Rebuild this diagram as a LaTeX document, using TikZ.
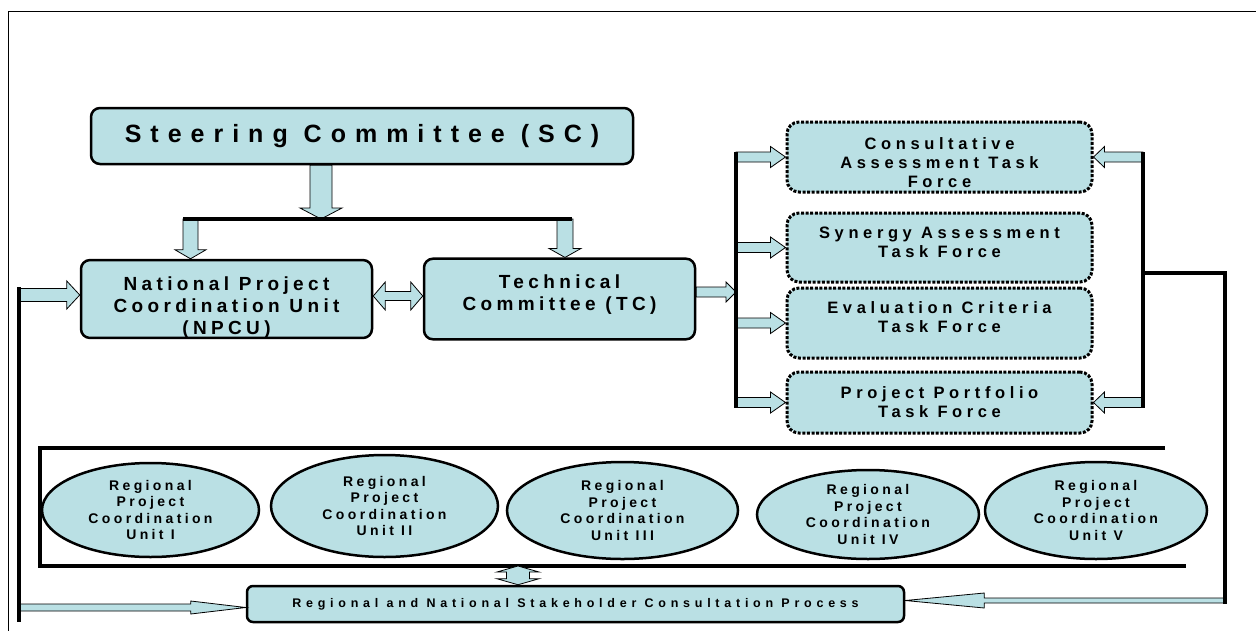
\documentclass[tikz,border=0pt]{standalone}
\usepackage{fontspec}
\setmainfont{Liberation Sans}
\usetikzlibrary{calc,shapes.geometric}

\definecolor{paleblue}{RGB}{186,224,228}

% invisible top strut that lowers a text block
\newcommand{\dropline}[1]{\rule{0pt}{#1}}

\tikzset{
  frameline/.style={line width=1pt},
  mainline/.style={line width=3.5pt},
  orgbox/.style={draw, line width=2.5pt, fill=paleblue, rounded corners=9pt, align=center, inner sep=0pt,
    font=\fontsize{19pt}{22pt}\selectfont\bfseries\addfontfeature{LetterSpace=23}},
  taskbox/.style={orgbox, rounded corners=12pt, line width=3pt, dash pattern=on 3pt off 1.6pt,
    font=\fontsize{16.5pt}{19pt}\selectfont\bfseries\addfontfeature{LetterSpace=28}},
  unitoval/.style={draw, ellipse, line width=2.5pt, fill=paleblue, align=center, inner sep=0pt,
    font=\fontsize{14pt}{16.5pt}\selectfont\bfseries\addfontfeature{LetterSpace=24}},
  arrowbody/.style={draw, fill=paleblue, line width=0.8pt, line join=miter}
}

% fat arrow: start, tip, half shaft, half head, head length
\newcommand{\fatarrow}[5]{%
  \path (#1) coordinate (fa-s) (#2) coordinate (fa-t);
  \path ($(fa-t)!#5!(fa-s)$) coordinate (fa-h);
  \draw[arrowbody] ($(fa-s)!#3!90:(fa-t)$) -- ($(fa-h)!#3!90:(fa-t)$) -- ($(fa-h)!#4!90:(fa-t)$)
    -- (fa-t) -- ($(fa-h)!#4!-90:(fa-t)$) -- ($(fa-h)!#3!-90:(fa-t)$) -- ($(fa-s)!#3!-90:(fa-t)$) -- cycle;}

% fat double arrow: end, end, half shaft, half head, head length
\newcommand{\fatdblarrow}[5]{%
  \path (#1) coordinate (fa-s) (#2) coordinate (fa-t);
  \path ($(fa-s)!#5!(fa-t)$) coordinate (fa-g) ($(fa-t)!#5!(fa-s)$) coordinate (fa-h);
  \draw[arrowbody] (fa-s) -- ($(fa-g)!#4!90:(fa-t)$) -- ($(fa-g)!#3!90:(fa-t)$) -- ($(fa-h)!#3!90:(fa-t)$)
    -- ($(fa-h)!#4!90:(fa-t)$) -- (fa-t) -- ($(fa-h)!#4!-90:(fa-t)$) -- ($(fa-h)!#3!-90:(fa-t)$)
    -- ($(fa-g)!#3!-90:(fa-t)$) -- ($(fa-g)!#4!-90:(fa-t)$) -- cycle;}

\begin{document}
\begin{tikzpicture}[x=1pt,y=-1pt]
\useasboundingbox (0,0) rectangle (1256,630);

% outer frame
\draw[frameline] (8,640) -- (8,11) -- (1270,11);

% committees
\node[orgbox, minimum width=542pt, minimum height=56pt,
  font=\fontsize{25pt}{30pt}\selectfont\bfseries\addfontfeature{LetterSpace=36}] (sc) at (362,136) {Steering Committee (SC)};
\node[orgbox, minimum width=291pt, minimum height=76pt] (npcu) at (226.5,299) {\dropline{30pt}National Project\\Coordination Unit\\(NPCU)};
\node[orgbox, minimum width=271pt, minimum height=76pt] (tc) at (559.5,299) {\dropline{30pt}Technical\\Committee (TC)\\\strut};

% task forces
\node[taskbox, minimum width=305pt, minimum height=70pt] (cat) at (939.5,157) {\dropline{23pt}Consultative\\Assessment Task\\Force};
\node[taskbox, minimum width=305pt, minimum height=69pt] (sat) at (939.5,247.5) {\dropline{25pt}Synergy Assessment\\Task Force\\\strut};
\node[taskbox, minimum width=305pt, minimum height=70pt] (ect) at (939.5,323) {\dropline{25pt}Evaluation Criteria\\Task Force\\\strut};
\node[taskbox, minimum width=305pt, minimum height=61pt] (ppt) at (939.5,402.5) {Project Portfolio\\Task Force};

% regional units
\node[unitoval, minimum width=217pt, minimum height=94pt] (rpcu1) at (150.5,510) {Regional\\Project\\Coordination\\Unit I};
\node[unitoval, minimum width=227pt, minimum height=102pt] (rpcu2) at (384.5,506) {Regional\\Project\\Coordination\\Unit II};
\node[unitoval, minimum width=231pt, minimum height=97pt] (rpcu3) at (622.5,510.5) {Regional\\Project\\Coordination\\Unit III};
\node[unitoval, minimum width=222pt, minimum height=89pt] (rpcu4) at (868,514.5) {Regional\\Project\\Coordination\\Unit IV};
\node[unitoval, minimum width=222pt, minimum height=97pt] (rpcu5) at (1096,510.5) {Regional\\Project\\Coordination\\Unit V};

% consultation process
\node[orgbox, rounded corners=6pt, minimum width=657pt, minimum height=36pt,
  font=\fontsize{12.5pt}{15pt}\selectfont\bfseries\addfontfeature{LetterSpace=38}] (scp) at (575.5,604) {Regional and National Stakeholder Consultation Process};

% split below the steering committee
\coordinate (bar-l) at (183,219);
\coordinate (bar-r) at (572,219);
\coordinate (bar-m) at (321,219);
\coordinate (drop-l) at (190.5,219);
\coordinate (drop-r) at (565,219);
\fatarrow{sc.south -| bar-m}{bar-m}{11pt}{21pt}{11pt}
\fatarrow{drop-l}{npcu.north -| drop-l}{7.5pt}{15.5pt}{9pt}
\fatarrow{drop-r}{tc.north -| drop-r}{8pt}{16pt}{9pt}
\draw[mainline] (bar-l) -- (bar-r);

% NPCU <-> TC
\fatdblarrow{$(npcu.east)+(0,-3)$}{$(tc.west)+(0,-3)$}{4.5pt}{14pt}{12pt}

% TC to the task forces
\coordinate (rail-lt) at (736,152);
\coordinate (rail-lb) at (736,407.5);
\fatarrow{$(tc.east)+(0,-7)$}{rail-lt |- 0,292}{5pt}{10pt}{10pt}
\foreach \tf in {cat,sat,ect,ppt}
  \fatarrow{rail-lt |- \tf.west}{\tf.west}{5pt}{10.5pt}{15pt}
\draw[mainline] (rail-lt) -- (rail-lb);

% right rail
\coordinate (rail-rt) at (1143,152);
\coordinate (rail-rb) at (1143,407.5);
\fatarrow{rail-rt |- cat.east}{cat.east}{5pt}{10.5pt}{11pt}
\fatarrow{rail-rt |- ppt.east}{ppt.east}{5pt}{10.5pt}{11pt}
\draw[mainline] (rail-rt) -- (rail-rb);

% feedback into the consultation process
\coordinate (fb-j) at (1143,273);
\coordinate (fb-c) at (1225,273);
\coordinate (fb-r) at (1225,600.5);
\fatarrow{fb-r}{scp.east |- fb-r}{2.5pt}{7.5pt}{79pt}
\draw[mainline] (fb-j) -- (fb-c) -- ($(fb-r)+(0,3)$);

% feedback on the left
\coordinate (fb-lt) at (19,295);
\coordinate (fb-lb) at (19,607.5);
\fatarrow{fb-lt}{npcu.west |- fb-lt}{6.5pt}{14pt}{13pt}
\fatarrow{fb-lb}{scp.west |- fb-lb}{3.5pt}{6.5pt}{55pt}
\draw[mainline] ($(fb-lt)+(0,-8)$) -- ($(fb-lb)+(0,14.5)$);

% regional frame
\coordinate (rg-tr) at (1165,448);
\coordinate (rg-tl) at (40,448);
\coordinate (rg-bl) at (40,566);
\coordinate (rg-br) at (1186,566);
\draw[mainline] (rg-tr) -- (rg-tl) -- (rg-bl) -- (rg-br);

% regional units <-> consultation process
\coordinate (rg-m) at (518,566);
\fatdblarrow{rg-m}{scp.north -| rg-m}{11.5pt}{21pt}{6pt}

\end{tikzpicture}
\end{document}
